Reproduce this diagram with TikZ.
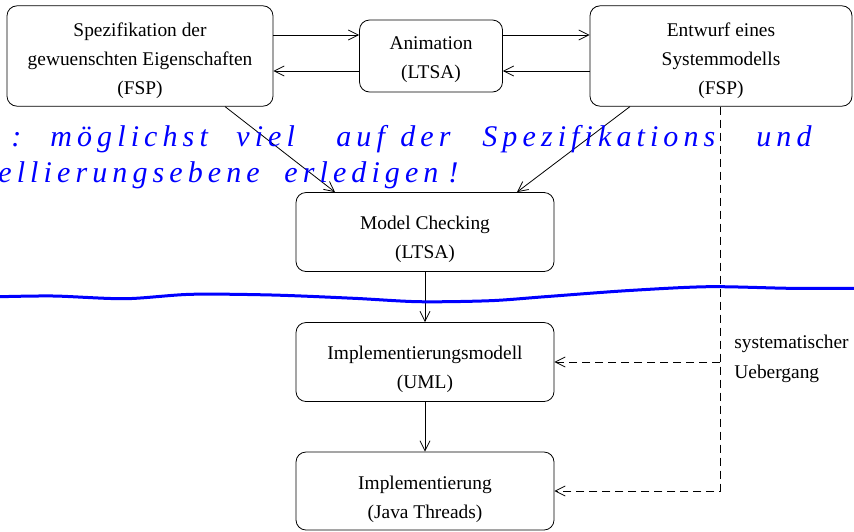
\documentclass[tikz,border=0pt]{standalone}
\usepackage{fontspec}
\setmainfont{Liberation Serif}
\usepackage{tikz}
\usetikzlibrary{arrows.meta,positioning,calc}

% lines of a box, drawn #1 lower than centred
\newcommand{\boxlines}[2][0pt]{\raisebox{-#1}[\height][\depth]{\begin{tabular}{@{}c@{}}#2\end{tabular}}}

\begin{document}
\begin{tikzpicture}[x=0.5pt, y=-0.5pt, >={Straight Barb[length=5pt,width=5pt]}, thin,
    box/.style = {draw, rounded corners=5pt, font=\fontsize{9.7}{14.5}\selectfont},
    ink/.style = {blue, font=\fontsize{15}{18}\selectfont\itshape\addfontfeatures{LetterSpace=17}, anchor=base west, inner sep=0pt}]
    \useasboundingbox (0,0) rectangle (854,531);

    % Nodes
    \node[box, minimum width=133pt, minimum height=50pt] (spec) at (140,56) {\boxlines[1.8pt]{Spezifikation der\\gewuenschten Eigenschaften\\(FSP)}};
    \node[box, minimum width=71.5pt, minimum height=36pt] (anim) at (431,56) {\boxlines[1.2pt]{Animation\\(LTSA)}};
    \node[box, minimum width=131pt, minimum height=50pt] (model) at (721,56) {\boxlines[1.8pt]{Entwurf eines\\Systemmodells\\(FSP)}};
    \node[box, minimum width=129pt, minimum height=39.5pt] (check) at (425,232) {\boxlines[3pt]{Model Checking\\(LTSA)}};
    \node[box, minimum width=129pt, minimum height=39.5pt] (uml) at (425,362) {\boxlines[3pt]{Implementierungsmodell\\(UML)}};
    \node[box, minimum width=129pt, minimum height=39pt] (impl) at (425,491) {\boxlines[3.5pt]{Implementierung\\(Java Threads)}};

    % label
    \node[anchor=north west, align=left, inner sep=0pt, font=\fontsize{9.7}{15}\selectfont] (trans) at (734,335) {systematischer\\Uebergang};

    % Directed edges
    \draw[->] ([yshift=10.5pt]spec.east) -- ([yshift=10.5pt]anim.west);
    \draw[->] ([yshift=-7.5pt]anim.west) -- ([yshift=-7.5pt]spec.east);
    \draw[->] ([yshift=10.5pt]anim.east) -- ([yshift=10.5pt]model.west);
    \draw[->] ([yshift=-7.5pt]model.west) -- ([yshift=-7.5pt]anim.east);
    \draw[->] ([xshift=42.5pt]spec.south) -- ([xshift=-45pt]check.north);
    \draw[->] ([xshift=-45.5pt]model.south) -- ([xshift=46pt]check.north);
    \draw[->] (check) -- (uml);
    \draw[->] (uml) -- (impl);

    % systematic transition
    \draw[->, dash pattern=on 4pt off 2.5pt] ([xshift=-0.5pt]model.south) |- (impl.east);
    \draw[->, dash pattern=on 4pt off 2.5pt] ([xshift=-0.5pt]model.south |- uml.east) -- (uml.east);

    % handwritten note
    \foreach \word/\x in {:/11, möglichst/50, viel/236, auf/336, der/400, Spezifikations/482, und/756}
        \node[ink] (a\x) at (\x,146) {\word};
    \foreach \word/\x in {ellierungsebene/-2, erledigen/284, !/448}
        \node[ink] (b\x) at (\x,182) {\word};
    \draw[blue, line width=1.5pt, line cap=round] plot[smooth] coordinates {(0,296.7) (54,296) (125,298.7) (191,294.3) (272,295) (354,298.3) (419,301.7) (490,300.7) (545,296.7) (626,290.7) (708,286.7) (790,288.3) (854,288.3)};
\end{tikzpicture}
\end{document}
